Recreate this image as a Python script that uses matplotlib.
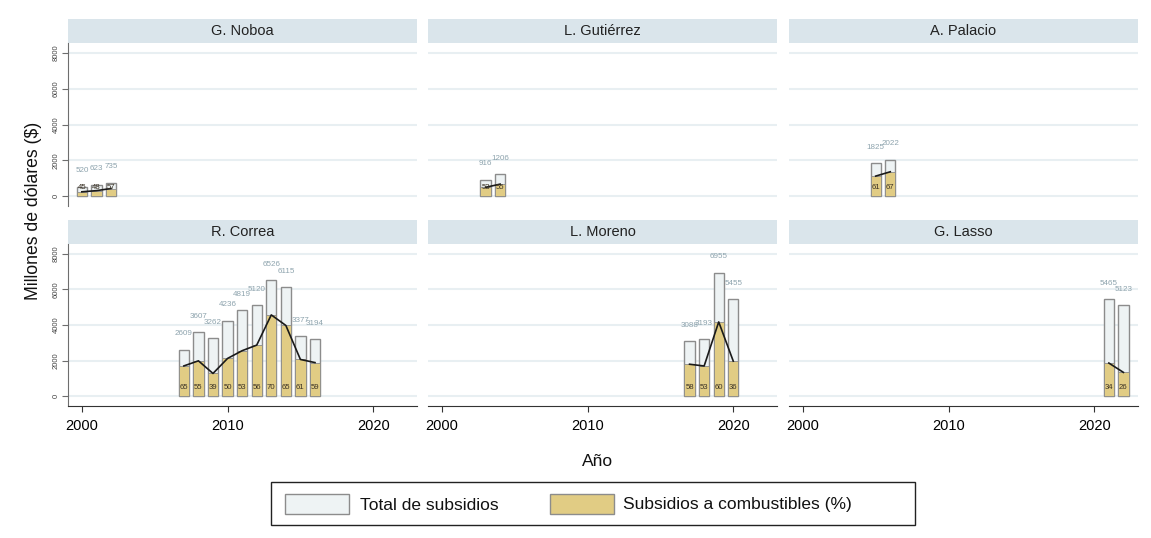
import matplotlib
matplotlib.use('Agg')
import matplotlib.pyplot as plt
from matplotlib.patches import Rectangle

plt.rcParams['font.family'] = ['Liberation Sans', 'DejaVu Sans']

# datos por presidente
presidentes = ['G. Noboa', 'L. Gutiérrez', 'A. Palacio', 'R. Correa', 'L. Moreno', 'G. Lasso']
anios = [
    [2000, 2001, 2002],
    [2003, 2004],
    [2005, 2006],
    [2007, 2008, 2009, 2010, 2011, 2012, 2013, 2014, 2015, 2016],
    [2017, 2018, 2019, 2020],
    [2021, 2022],
]
total_subsidios = [
    [520, 623, 735],
    [916, 1206],
    [1825, 2022],
    [2609, 3607, 3262, 4236, 4819, 5120, 6526, 6115, 3377, 3194],
    [3088, 3193, 6955, 5455],
    [5465, 5123],
]
pct_combustibles = [
    [45, 48, 57],
    [53, 55],
    [61, 67],
    [65, 55, 39, 50, 53, 56, 70, 65, 61, 59],
    [58, 53, 60, 36],
    [34, 26],
]
leyenda = ['Total de subsidios', 'Subsidios a combustibles (%)']

color_total = '#eef3f4'
color_comb = '#e1cc84'
color_borde = '#8c8c8c'
color_strip = '#dae5eb'
color_grid = '#e8eff2'

W, H = 1151, 538
fig = plt.figure(figsize=(W / 100, H / 100), dpi=100)

col_x = [68, 428, 789]
ancho = 349
filas = [(19, 43, 206), (220, 244, 406)]  # strip top, plot top, plot bottom


def px_axes(x0, y0, x1, y1):
    return fig.add_axes([x0 / W, 1 - y1 / H, (x1 - x0) / W, (y1 - y0) / H])


def px_rect(x0, y0, x1, y1, **kw):
    r = Rectangle((x0 / W, 1 - y1 / H), (x1 - x0) / W, (y1 - y0) / H,
                  transform=fig.transFigure, **kw)
    fig.patches.append(r)


for i, nombre in enumerate(presidentes):
    fila, col = divmod(i, 3)
    s_top, p_top, p_bot = filas[fila]
    x0 = col_x[col]

    # franja del titulo
    axs = px_axes(x0, s_top, x0 + ancho, p_top)
    axs.set_facecolor(color_strip)
    axs.set_xticks([])
    axs.set_yticks([])
    for sp in axs.spines.values():
        sp.set_visible(False)
    axs.text(0.5, 0.5, nombre, ha='center', va='center', fontsize=10.5, color='#222222')

    ax = px_axes(x0, p_top, x0 + ancho, p_bot)
    ax.set_xlim(1999.05, 2023.0)
    ax.set_ylim(-560, 8560)
    ax.set_yticks([0, 2000, 4000, 6000, 8000])
    ax.yaxis.grid(True, color=color_grid, linewidth=1.5)
    ax.set_axisbelow(True)
    for sp in ['top', 'right']:
        ax.spines[sp].set_visible(False)

    x = anios[i]
    tot = total_subsidios[i]
    pct = pct_combustibles[i]
    comb = [t * p / 100 for t, p in zip(tot, pct)]

    ax.bar(x, tot, width=0.7, color=color_total, edgecolor=color_borde, linewidth=1, zorder=2)
    ax.bar(x, comb, width=0.7, color=color_comb, edgecolor=color_borde, linewidth=0.6, zorder=3)
    ax.plot(x, comb, color='#1a1a1a', linewidth=1.2, zorder=4)

    for xi, t, p in zip(x, tot, pct):
        ax.text(xi, t + 700, str(t), ha='center', va='bottom', fontsize=5.8, color='#8da3ad', zorder=5)
        ax.text(xi, 480, str(p), ha='center', va='center', fontsize=5.6, color='#3b3225', zorder=5)

    if col == 0:
        ax.spines['left'].set_color('#6e6e6e')
        ax.tick_params(axis='y', length=4, color='#6e6e6e', labelsize=5.5, labelcolor='#444444',
                       labelrotation=90, pad=2)
        for lbl in ax.get_yticklabels():
            lbl.set_va('center')
    else:
        ax.spines['left'].set_visible(False)
        ax.tick_params(axis='y', length=0, labelleft=False)

    if fila == 1:
        ax.spines['bottom'].set_color('#333333')
        ax.set_xticks([2000, 2010, 2020])
        ax.tick_params(axis='x', length=4, labelsize=10.5, color='#333333', pad=5)
    else:
        ax.spines['bottom'].set_visible(False)
        ax.set_xticks([])

fig.text(34 / W, 1 - 211 / H, 'Millones de dólares ($)', rotation=90, ha='center', va='center',
         fontsize=12.7, color='#111111')
fig.text(598 / W, 1 - 462 / H, 'Año', ha='center', va='center', fontsize=12.5, color='#111111')

# leyenda dibujada a mano
px_rect(271, 482, 915, 525, facecolor='white', edgecolor='#222222', linewidth=1)
px_rect(285, 494, 349, 514, facecolor=color_total, edgecolor=color_borde, linewidth=1)
px_rect(550, 494, 614, 514, facecolor=color_comb, edgecolor=color_borde, linewidth=1)
fig.text(360 / W, 1 - 505 / H, leyenda[0], ha='left', va='center', fontsize=12.5, color='#111111')
fig.text(623 / W, 1 - 505 / H, leyenda[1], ha='left', va='center', fontsize=12.5, color='#111111')

fig.savefig('out.png', dpi=100, facecolor='white')
